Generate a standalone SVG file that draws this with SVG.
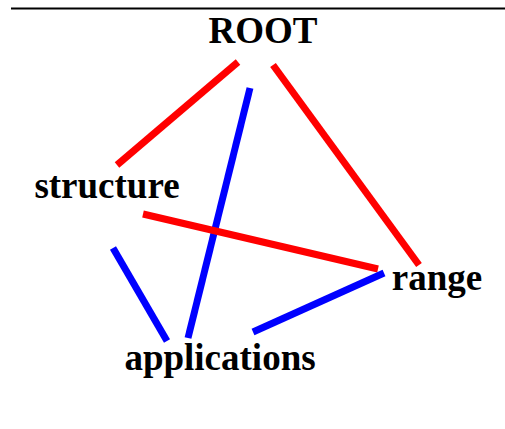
<svg xmlns="http://www.w3.org/2000/svg" width="505" height="429" viewBox="0 0 505 429">
<style>
.lbl{font-family:"Liberation Serif","Times New Roman",serif;font-weight:bold;font-size:37px;fill:#000}
.r{stroke:#ff0000;stroke-width:7;fill:none}
.b{stroke:#0000ff;stroke-width:7;fill:none}
</style>
<rect width="505" height="429" fill="#fff"/>
<line x1="11" y1="8.5" x2="505" y2="8.5" stroke="#000" stroke-width="1.8"/>
<g id="connectors">
<line class="r" x1="238" y1="62" x2="117" y2="165"/>
<line class="r" x1="273" y1="65" x2="419" y2="265"/>
<line class="b" x1="250" y1="88" x2="188" y2="338"/>
<line class="r" x1="143" y1="214" x2="378" y2="269"/>
<line class="b" x1="113" y1="248" x2="167" y2="341"/>
<line class="b" x1="384" y1="273" x2="253" y2="332"/>
</g>
<g id="ROOT"><text class="lbl" x="263" y="43" text-anchor="middle">ROOT</text></g>
<g id="structure"><text class="lbl" x="107" y="198" text-anchor="middle">structure</text></g>
<g id="range"><text class="lbl" x="437" y="290" text-anchor="middle">range</text></g>
<g id="applications"><text class="lbl" x="220" y="370" text-anchor="middle">applications</text></g>
</svg>
